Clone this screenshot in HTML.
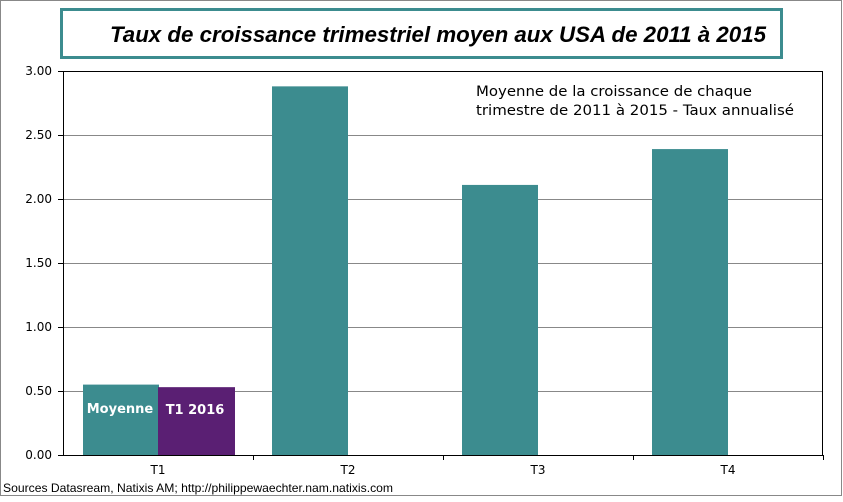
<!DOCTYPE html>
<html><head><meta charset="utf-8"><style>
body{margin:0;background:#fff}
svg text{font-family:"DejaVu Sans",Verdana,sans-serif}
</style></head><body>
<svg id="c" width="843" height="497" xmlns="http://www.w3.org/2000/svg">
<rect x="0.5" y="0.5" width="841" height="495" fill="#fff" stroke="#888"/>
<rect x="61.5" y="9.5" width="720" height="48" fill="#fff" stroke="#3c8c8f" stroke-width="3"/>
<text x="110" y="42" font-size="22" font-weight="bold" font-style="italic" textLength="656" lengthAdjust="spacingAndGlyphs" style="font-family:'Liberation Sans',sans-serif">Taux de croissance trimestriel moyen aux USA de 2011 à 2015</text>
<g id="grid"></g>
<rect x="63.5" y="71.5" width="759" height="384" fill="none" stroke="#000"/>
<g id="bars"></g>
<g id="axes"></g>
<text x="476" y="96" font-size="14" textLength="276" lengthAdjust="spacingAndGlyphs">Moyenne de la  croissance de chaque</text>
<text x="476" y="115" font-size="14" textLength="318" lengthAdjust="spacingAndGlyphs">trimestre de 2011 à 2015 -  Taux annualisé</text>
<text x="3" y="492" font-size="12" textLength="390" lengthAdjust="spacingAndGlyphs" style="font-family:'Liberation Sans',sans-serif">Sources Datasream, Natixis AM;  http://philippewaechter.nam.natixis.com</text>
</svg>
<script>
const categories=["T1","T2","T3","T4"];
const moyenneValues=[0.55,2.88,2.11,2.39];
const t12016Values=[0.53];
const yTicks=[0,0.5,1,1.5,2,2.5,3];
const NS="http://www.w3.org/2000/svg";
const x0=63,x1=823,yTop=71,yBot=455,yMax=3;
const catW=(x1-x0)/categories.length;
const y=v=>yBot-v/yMax*(yBot-yTop);
function mk(tag,at,parent,txt){const e=document.createElementNS(NS,tag);for(const k in at)e.setAttribute(k,at[k]);if(txt!=null)e.textContent=txt;document.getElementById(parent).appendChild(e);return e;}
yTicks.forEach(t=>{
 if(t>0&&t<3){const g=mk('line',{x1:x0,x2:x1,y1:y(t)+0.5,y2:y(t)+0.5,stroke:'#888'},'grid');
 
 }
 const tk=mk('line',{x1:x0-5,x2:x0,y1:y(t)+0.5,y2:y(t)+0.5,stroke:'#000'},'axes');
 
 
 const l=mk('text',{x:x0-11,y:y(t)+4,'text-anchor':'end','font-size':12},'axes',t.toFixed(2));
 
 
});
const ax=mk('line',{x1:x0,x2:x1,y1:yBot+0.5,y2:yBot+0.5,stroke:'#000'},'axes');


categories.forEach((c,i)=>{
 const cx=x0+catW*i;
 const tk=mk('line',{x1:cx+catW+0.5,x2:cx+catW+0.5,y1:yBot,y2:yBot+5,stroke:'#000'},'axes');
 
 
 const l=mk('text',{x:cx+catW/2,y:yBot+19,'text-anchor':'middle','font-size':12},'axes',c);
 
 
 const bx=i===0?cx+20:cx+19;
 const b=mk('rect',{x:bx,y:y(moyenneValues[i]),width:76,height:yBot-y(moyenneValues[i]),fill:'#3c8c8f'},'bars');
 
 
});
const b2=mk('rect',{x:158,y:y(t12016Values[0]),width:77,height:yBot-y(t12016Values[0]),fill:'#5a1f73'},'bars');


const l1=mk('text',{x:120,y:413,'text-anchor':'middle','font-size':13,'font-weight':'bold',fill:'#fff'},'bars','Moyenne');


const l2=mk('text',{x:195,y:414,'text-anchor':'middle','font-size':13,'font-weight':'bold',fill:'#fff'},'bars','T1  2016');


</script>
</body></html>
